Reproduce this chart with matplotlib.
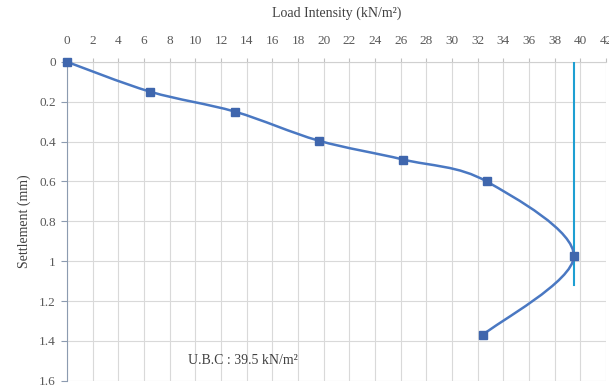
"""
plot.py
load intensity vs settlement curve (plate load test)
"""

import numpy as np
import matplotlib
matplotlib.use('Agg')
import matplotlib.pyplot as plt
from matplotlib.path import Path
from matplotlib.patches import PathPatch

## data
load_kn_m2     = [0, 6.5, 13.1, 19.6, 26.2, 32.7, 39.5, 32.4]
settlement_mm  = [0, 0.15, 0.25, 0.395, 0.49, 0.60, 0.975, 1.37]
ubc_value      = 39.5
ubc_line_y     = [0, 1.12]
x_ticks        = list(range(0, 43, 2))
y_ticks        = [0, 0.2, 0.4, 0.6, 0.8, 1, 1.2, 1.4, 1.6]
y_tick_labels  = ['0', '0.2', '0.4', '0.6', '0.8', '1', '1.2', '1.4', '1.6']

LINE_COL   = '#4a78c2'
MARK_COL   = '#3f66ad'
UBC_COL    = '#1e9fd2'
TEXT_COL   = '#404040'
TICK_COL   = '#595959'

plt.rcParams['font.family'] = ['Liberation Serif', 'DejaVu Serif']


def smooth_path(ax, xs, ys):
    '''excel-like smoothed line: bezier segments built in pixel space'''
    pts = ax.transData.transform(np.column_stack([xs, ys]))
    n = len(pts)
    verts = [pts[0]]
    codes = [Path.MOVETO]
    for i in range(n - 1):
        p0 = pts[i - 1] if i > 0 else pts[i]
        p1 = pts[i]
        p2 = pts[i + 1]
        p3 = pts[i + 2] if i + 2 < n else pts[i + 1]
        c1 = p1 + (p2 - p0) / 6.0
        c2 = p2 - (p3 - p1) / 6.0
        verts += [c1, c2, p2]
        codes += [Path.CURVE4] * 3
    verts = ax.transData.inverted().transform(np.array(verts))
    return Path(verts, codes)


fig = plt.figure(figsize=(6.09, 3.89), dpi=100)
ax = fig.add_axes([0.110, 0.021, 0.885, 0.820])

ax.set_xlim(0, 42)
ax.set_ylim(1.6, 0)

ax.xaxis.tick_top()
ax.xaxis.set_label_position('top')
ax.set_xticks(x_ticks)
ax.set_yticks(y_ticks)
ax.set_yticklabels(y_tick_labels)

ax.grid(True, color='#d9d9d9', linewidth=0.8)
ax.set_axisbelow(True)

for side in ['right', 'bottom']:
    ax.spines[side].set_visible(False)
ax.spines['left'].set_color('#8c9bb0')
ax.spines['top'].set_color('#d0d0d0')

ax.tick_params(axis='x', colors=TICK_COL, labelsize=9.5, length=3, pad=8,
               color='#c0c0c0')
ax.tick_params(axis='y', colors=TICK_COL, labelsize=9.5, length=4, pad=4,
               color='#8c9bb0')

ax.set_xlabel('Load Intensity (kN/m\u00b2)', fontsize=10, color=TEXT_COL,
              labelpad=13)
ax.set_ylabel('Settlement (mm)', fontsize=10, color=TEXT_COL, labelpad=6)

# ubc vertical line
ax.plot([ubc_value, ubc_value], ubc_line_y, color=UBC_COL, linewidth=1.5,
        zorder=3)

# smoothed curve and markers
patch = PathPatch(smooth_path(ax, load_kn_m2, settlement_mm),
                  facecolor='none', edgecolor=LINE_COL, linewidth=1.8,
                  zorder=4)
ax.add_patch(patch)
ax.plot(load_kn_m2, settlement_mm, linestyle='none', marker='s',
        markersize=5.5, color=MARK_COL, zorder=5, clip_on=False)

ax.text(9.4, 1.5, 'U.B.C : 39.5 kN/m\u00b2', fontsize=10, color=TEXT_COL,
        va='center', ha='left')

fig.savefig('out.png', dpi=100)
